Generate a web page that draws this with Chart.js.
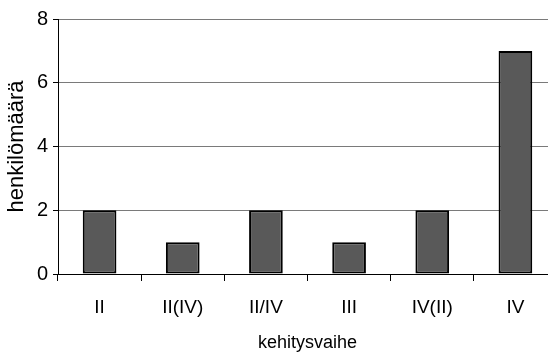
<!DOCTYPE html>
<html>
<head>
<meta charset="utf-8">
<script src="https://cdn.jsdelivr.net/npm/chart.js@4/dist/chart.umd.min.js"></script>
<style>
  html, body { margin: 0; padding: 0; background: #fff; overflow: hidden; }
  #wrap { width: 558px; height: 354px; }
</style>
</head>
<body>
<div id="wrap"><canvas id="c" width="558" height="354"></canvas></div>
<script>
// Henkilömäärä kehitysvaiheittain
const categories = ['II', 'II(IV)', 'II/IV', 'III', 'IV(II)', 'IV'];
const henkilomaara = [2, 1, 2, 1, 2, 7];
const yTicks = [0, 2, 4, 6, 8];

const family = '"Liberation Sans", Arial, sans-serif';

new Chart(document.getElementById('c'), {
  type: 'bar',
  data: {
    labels: categories,
    datasets: [{
      data: henkilomaara,
      backgroundColor: '#595959',
      borderColor: '#000000',
      borderWidth: 2,
      borderSkipped: false,
      categoryPercentage: 1,
      barPercentage: 0.405
    }]
  },
  options: {
    responsive: false,
    animation: false,
    devicePixelRatio: 1,
    layout: { padding: { top: 19, right: 1, left: 0, bottom: 0 } },
    plugins: { legend: { display: false }, tooltip: { enabled: false } },
    scales: {
      x: {
        offset: true,
        grid: { offset: true, drawOnChartArea: false, tickLength: 7, color: '#000', tickColor: '#000' },
        border: { color: '#000', width: 1 },
        ticks: { color: '#000', font: { family, size: 19 }, padding: 15, maxRotation: 0 },
        title: { display: true, text: 'kehitysvaihe', color: '#000', font: { family, size: 18 }, padding: { top: 0, bottom: 0 } },
        afterFit: s => { s.height = 80; }
      },
      y: {
        min: 0,
        max: 8,
        afterBuildTicks: s => { s.ticks = yTicks.map(v => ({ value: v })); },
        grid: { color: '#7a7a7a', tickLength: 5, tickColor: '#000', lineWidth: 1 },
        border: { color: '#000', width: 1 },
        ticks: { color: '#000', font: { family, size: 20 }, padding: 5 },
        title: { display: true, text: 'henkilömäärä', color: '#000', font: { family, size: 22 }, padding: { top: 4, bottom: 4 } },
        afterFit: s => { s.width = 58; }
      }
    }
  }
});
</script>
</body>
</html>
